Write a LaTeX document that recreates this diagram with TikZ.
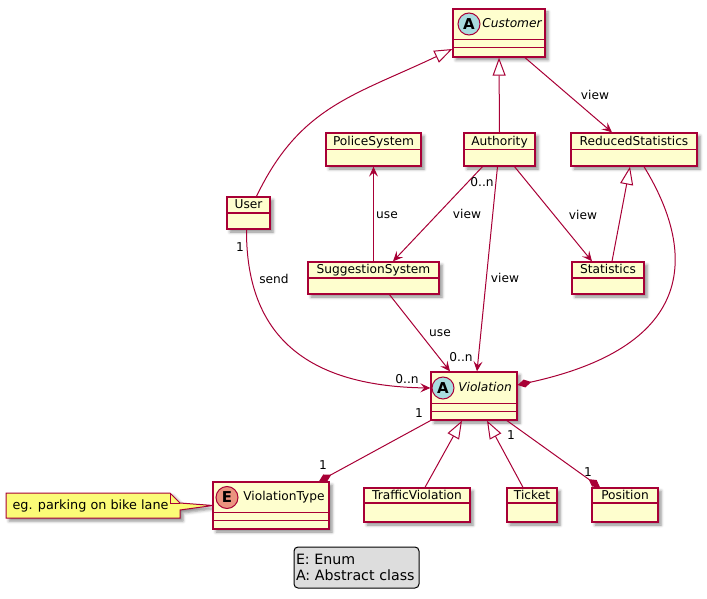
\documentclass[tikz,border=0pt]{standalone}
\usepackage{fontspec}
\setmainfont{DejaVu Sans}
\usetikzlibrary{arrows.meta,calc,shadows.blur}

\definecolor{umlborder}{HTML}{A80036}
\definecolor{umlfill}{HTML}{FEFECE}
\definecolor{abstractbadge}{HTML}{A9DCDF}
\definecolor{enumbadge}{HTML}{EB937F}
\definecolor{notefill}{HTML}{FBFB77}
\definecolor{legendfill}{HTML}{DDDDDD}

\tikzset{
  boxshadow/.style={blur shadow={shadow xshift=3pt, shadow yshift=-3pt,
      shadow blur radius=3pt, shadow opacity=45}},
  classbox/.style={draw=umlborder, fill=umlfill, line width=1.3pt,
      inner sep=0pt, boxshadow},
  divider/.style={draw=umlborder, line width=1.3pt},
  cname/.style={font=\fontsize{12.2}{14}\selectfont, inner sep=0pt,
      text height=9pt, text depth=2.5pt},
  badge/.style={circle, draw=umlborder, line width=1pt, minimum size=22pt,
      inner sep=0pt, font=\fontsize{15}{16}\selectfont\bfseries},
  lbl/.style={font=\fontsize{12.2}{14}\selectfont, inner sep=0pt},
  edge/.style={draw=umlborder, line width=1pt},
  assoc/.style={edge, -{Stealth[length=10pt, width=9pt, inset=4pt]}},
  inherit/.style={edge, -{Triangle[open, length=18pt, width=13pt, fill=white]}},
  composed/.style={edge, -{Diamond[length=14pt, width=8pt, fill=umlborder]}},
  composedstart/.style={edge, {Diamond[length=14pt, width=8pt, fill=umlborder]}-},
}

% class box: name, centre, width, height
\newcommand\umlclass[4]{%
  \node[classbox, minimum width=#3pt, minimum height=#4pt] (#1) at (#2) {};}
% divider line below the top edge of a class box
\newcommand\umldivider[2]{%
  \draw[divider] ([yshift=-#2pt]#1.north west) -- ([yshift=-#2pt]#1.north east);}

\begin{document}
\begin{tikzpicture}[x=1pt, y=-1pt]
\useasboundingbox (0,0) rectangle (707,599);

% the enum box position is fixed first so the note can point at it
\coordinate (vtype-anchor) at (213,505.5);

% ---------- note ----------
\draw[draw=umlborder, fill=notefill, line width=1pt, boxshadow]
  (6,493) -- (170,493) -- (180,503) -- (vtype-anchor) -- (180,510)
  -- (180,518) -- (6,518) -- cycle;
\draw[draw=umlborder, line width=1pt] (170,493) -- (170,503) -- (180,503);
\node[font=\fontsize{12.8}{15}\selectfont, inner sep=0pt] (note) at (90.5,506)
  {eg. parking on bike lane};

% ---------- classes ----------
\umlclass{cust}{499,33}{92}{48}
\umldivider{cust}{31}\umldivider{cust}{39}
\node[badge, fill=abstractbadge] (cust-badge) at (469,24) {A};
\node[cname] (cust-name) at (512,24) {\itshape Customer};

\umlclass{police}{373.5,149.5}{95}{33}
\umldivider{police}{17.5}
\node[cname] (police-name) at (373.5,142) {PoliceSystem};

\umlclass{auth}{499.5,149.5}{71}{33}
\umldivider{auth}{17.5}
\node[cname] (auth-name) at (499.5,142) {Authority};

\umlclass{rstat}{634,149.5}{126}{33}
\umldivider{rstat}{17.5}
\node[cname] (rstat-name) at (634,142) {ReducedStatistics};

\umlclass{user}{248.5,213}{43}{32}
\umldivider{user}{16.5}
\node[cname] (user-name) at (248.5,205) {User};

\umlclass{sugg}{373.5,278}{131}{32}
\umldivider{sugg}{16.5}
\node[cname] (sugg-name) at (373.5,270) {SuggestionSystem};

\umlclass{stat}{608,278}{72}{32}
\umldivider{stat}{16.5}
\node[cname] (stat-name) at (608,270) {Statistics};

\umlclass{viol}{474,396}{86}{48}
\umldivider{viol}{32}\umldivider{viol}{40}
\node[badge, fill=abstractbadge] (viol-badge) at (443,388) {A};
\node[cname] (viol-name) at (485,388) {\itshape Violation};

\umlclass{vtype}{271,505.5}{116}{47}
\umldivider{vtype}{31}\umldivider{vtype}{39}
\node[badge, fill=enumbadge] (vtype-badge) at (227,497.5) {E};
\node[cname] (vtype-name) at (284,497.5) {ViolationType};

\umlclass{traffic}{417,505}{106}{34}
\umldivider{traffic}{15.5}
\node[cname] (traffic-name) at (417,496) {TrafficViolation};

\umlclass{ticket}{532,505}{50}{34}
\umldivider{ticket}{15.5}
\node[cname] (ticket-name) at (532,496) {Ticket};

\umlclass{pos}{625,505}{66}{34}
\umldivider{pos}{15.5}
\node[cname] (pos-name) at (625,496) {Position};

% ---------- connectors ----------
\draw[inherit] ([xshift=8pt]user.north)
  .. controls (299.5,106.6) and (353.5,95.8) .. ([yshift=-16pt]cust.west);
\draw[inherit] (auth.north) -- (cust.south);
\draw[assoc] ([xshift=26pt]cust.south) -- ([xshift=-22pt]rstat.north);
\draw[assoc] (sugg.north) -- (police.south);
\draw[assoc] ([xshift=-17pt]auth.south) -- ([xshift=19.5pt]sugg.north);
\draw[assoc] ([xshift=15pt]auth.south) -- ([xshift=-16pt]stat.north);
\draw[assoc] ([xshift=-2pt]auth.south) -- ([xshift=3pt]viol.north);
\draw[inherit] ([xshift=4pt]stat.north) -- ([xshift=-4pt]rstat.south);
\draw[composedstart] ([yshift=11pt]viol.east)
  .. controls (700,345) and (695,250) .. ([xshift=10pt]rstat.south);
\draw[assoc] ([xshift=-2pt]user.south)
  .. controls (246,330) and (300,386) .. ([yshift=8pt]viol.west);
\draw[assoc] ([xshift=16pt]sugg.south) -- ([xshift=-24pt]viol.north);
\draw[composed] (viol.south west) -- ([xshift=48pt]vtype.north);
\draw[inherit] ([xshift=8pt]traffic.north) -- ([xshift=-12pt]viol.south);
\draw[inherit] ([xshift=-9pt]ticket.north) -- ([xshift=13pt]viol.south);
\draw[composed] ([xshift=33pt]viol.south) -- ([xshift=-25pt]pos.north);

% ---------- connector labels ----------
\node[lbl] (l-view1) at (595,95) {view};
\node[lbl] (l-mult1) at (482,182) {0..n};
\node[lbl] (l-view2) at (467,214) {view};
\node[lbl] (l-view3) at (583,215) {view};
\node[lbl] (l-view4) at (505,278) {view};
\node[lbl] (l-use1) at (387,215) {use};
\node[lbl] (l-mult2) at (240,247) {1};
\node[lbl] (l-send) at (274,279) {send};
\node[lbl] (l-use2) at (440,333) {use};
\node[lbl] (l-mult3) at (461,357) {0..n};
\node[lbl] (l-mult4) at (407,379) {0..n};
\node[lbl] (l-mult5) at (419,413) {1};
\node[lbl] (l-mult6) at (323,465) {1};
\node[lbl] (l-mult7) at (511,435) {1};
\node[lbl] (l-mult8) at (588,472) {1};

% ---------- legend ----------
\node[draw=black, fill=legendfill, line width=1pt, rounded corners=4pt,
      minimum width=125pt, minimum height=41pt, inner xsep=2pt, inner ysep=0pt,
      text width=121pt, align=left,
      font=\fontsize{14.2}{16.5}\selectfont] (legend) at (356.5,567.5)
  {E: Enum\\A: Abstract class};
\end{tikzpicture}
\end{document}
